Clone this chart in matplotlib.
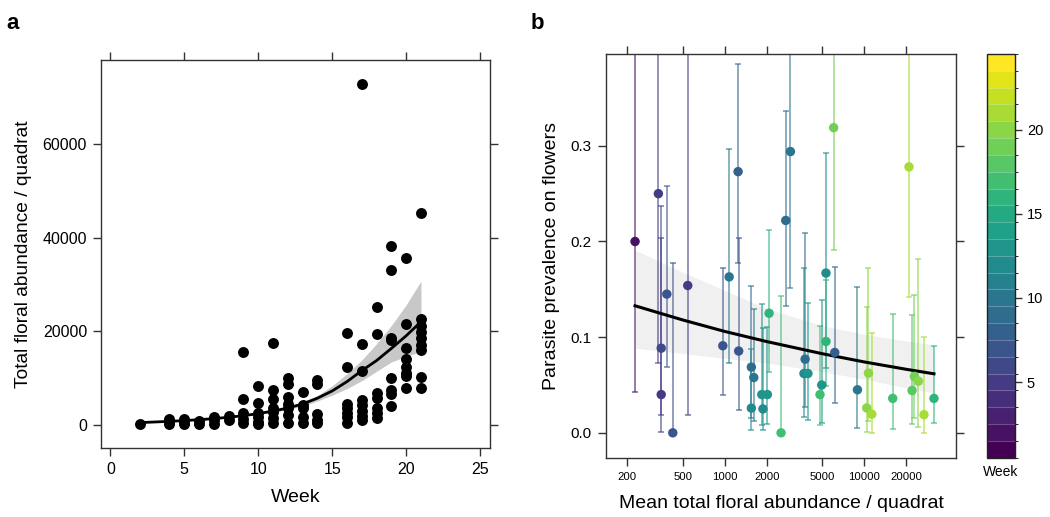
import numpy as np
import matplotlib
matplotlib.use("Agg")
import matplotlib.pyplot as plt
from matplotlib.colors import ListedColormap, BoundaryNorm, to_rgba
from matplotlib.colorbar import ColorbarBase

plt.rcParams['font.family'] = ['Liberation Sans', 'DejaVu Sans']

# ---- panel a: total floral abundance per quadrat by week ----
week_a = ([2] + [4] * 3 + [5] * 3 + [6] * 2 + [7] * 3 + [8] * 2 + [9] * 5 + [10] * 6
          + [11] * 7 + [12] * 7 + [13] * 5 + [14] * 5 + [16] * 7 + [17] * 8
          + [18] * 7 + [19] * 8 + [20] * 8 + [21] * 9)
floral_a = [200,
            1300, 600, 100,
            1200, 600, 150,
            700, 100,
            1700, 900, 200,
            1800, 1000,
            15500, 5400, 2400, 1300, 400,
            8300, 4700, 2400, 1700, 600, 100,
            17500, 7500, 5400, 3500, 2600, 1400, 400,
            10000, 8700, 5800, 4500, 3500, 2000, 300,
            7000, 4300, 3500, 1700, 400,
            9500, 8700, 2300, 1000, 300,
            19700, 12400, 4500, 3500, 2400, 1600, 400,
            72800, 17200, 11500, 5300, 4200, 3000, 1900, 900,
            25100, 19400, 6700, 5600, 3500, 2400, 1350,
            38200, 33000, 18500, 18000, 9900, 7300, 6500, 4000,
            35600, 21500, 16300, 14000, 12400, 11100, 10300, 7800,
            45300, 22500, 21100, 19900, 18500, 17000, 16000, 10100, 7800]

# fitted curve and band
fit_week_a = [2, 3, 4, 5, 6, 7, 8, 9, 10, 11, 12, 13, 14, 15, 16, 17, 18, 19, 20, 21]
fit_mid_a = [430, 560, 700, 860, 1050, 1280, 1570, 1920, 2350, 2900, 3550, 4420,
             5650, 7200, 9200, 11540, 13700, 16300, 19000, 22000]
fit_lo_a = [360, 480, 620, 770, 950, 1160, 1430, 1760, 2150, 2650, 3200, 3950,
            5050, 6300, 7700, 9400, 11400, 13400, 14600, 15600]
fit_hi_a = [510, 640, 780, 950, 1150, 1400, 1710, 2080, 2550, 3150, 3900, 4900,
            6200, 8300, 10900, 13800, 17300, 21200, 25600, 30700]

# ---- panel b: parasite prevalence vs mean floral abundance ----
abund_b = [228, 335, 351, 351, 385, 425, 544, 970, 1077, 1248, 1260, 1553, 1617,
           1553, 1845, 1880, 2024, 2081, 2535, 2740, 2960, 3770, 3700, 3950, 4820,
           4960, 5320, 5320, 6040, 6150, 8940, 10420, 10720, 11330, 16000, 20930,
           22010, 22880, 24430, 26800, 31600]
prev_b = [0.200, 0.250, 0.0885, 0.040, 0.145, 0.000, 0.154, 0.091, 0.163, 0.273,
          0.0855, 0.0687, 0.0578, 0.0258, 0.040, 0.025, 0.040, 0.125, 0.000, 0.222,
          0.294, 0.077, 0.062, 0.062, 0.040, 0.050, 0.167, 0.0955, 0.319, 0.084,
          0.045, 0.026, 0.0624, 0.0195, 0.036, 0.278, 0.0442, 0.059, 0.054, 0.019,
          0.036]
lo_b = [0.043, 0.073, 0.019, 0.001, 0.069, 0.000, 0.019, 0.040, 0.0735, 0.177,
        0.024, 0.015, 0.012, 0.003, 0.008, 0.003, 0.009, 0.064, 0.000, 0.133,
        0.151, 0.027, 0.017, 0.013, 0.008, 0.010, 0.068, 0.049, 0.191, 0.031,
        0.005, 0.001, 0.012, 0.000, 0.004, 0.142, 0.009, 0.015, 0.006, 0.000,
        0.010]
hi_b = [0.64, 0.52, 0.237, 0.204, 0.258, 0.177, 0.48, 0.172, 0.297, 0.386,
        0.2035, 0.153, 0.129, 0.088, 0.135, 0.110, 0.111, 0.212, 0.143, 0.336,
        0.47, 0.209, 0.172, 0.136, 0.112, 0.139, 0.293, 0.160, 0.47, 0.173,
        0.152, 0.132, 0.172, 0.104, 0.124, 0.45, 0.123, 0.144, 0.182, 0.100,
        0.091]
week_b = [2, 5, 6, 5, 7, 7, 5, 7, 10, 8, 7, 9, 10, 12, 13, 12, 13, 16, 17, 9,
          10, 9, 12, 13, 17, 13, 12, 16, 19, 8, 10, 20, 20, 21, 17, 21, 18, 19,
          20, 21, 16]

fit_abund_b = [228, 500, 1000, 2000, 5000, 10000, 20000, 31600]
fit_mid_b = [0.1328, 0.118, 0.106, 0.0954, 0.0827, 0.0741, 0.0664, 0.0617]
fit_lo_b = [0.0885, 0.083, 0.078, 0.073, 0.064, 0.056, 0.047, 0.0415]
fit_hi_b = [0.191, 0.168, 0.149, 0.130, 0.112, 0.103, 0.096, 0.092]

frame = '#333333'

fig = plt.figure(figsize=(10.5, 5.17), dpi=100)

# ---------------- panel a ----------------
ax1 = fig.add_axes([0.0962, 0.1335, 0.3705, 0.7505])
ax1.fill_between(fit_week_a, fit_lo_a, fit_hi_a, color='#c8c8c8', lw=0, zorder=1)
ax1.plot(fit_week_a, fit_mid_a, color='black', lw=2, zorder=2)
ax1.scatter(week_a, floral_a, s=62, color='black', lw=0, zorder=3)
ax1.set_xlim(-0.63, 25.67)
ax1.set_ylim(-5000, 78000)
ax1.set_xticks([0, 5, 10, 15, 20, 25])
ax1.set_yticks([0, 20000, 40000, 60000])
ax1.set_xlabel('Week', fontsize=14, labelpad=9)
ax1.set_ylabel('Total floral abundance / quadrat', fontsize=13.8, labelpad=8)
ax1.tick_params(axis='both', which='both', direction='out', length=6, width=1,
                color=frame, labelsize=11.5, top=True, right=True, pad=4)

# ---------------- panel b ----------------
ncol = 24
base = plt.get_cmap('viridis')
cmap = ListedColormap([base(i / (ncol - 1)) for i in range(ncol)])
bounds = np.linspace(0.5, 24.5, ncol + 1)
norm = BoundaryNorm(bounds, ncol, clip=True)

ax2 = fig.add_axes([0.5769, 0.1147, 0.3339, 0.7809])
ax2.set_xscale('log')
ax2.fill_between(fit_abund_b, fit_lo_b, fit_hi_b, color='#f0f0f0', lw=0, zorder=1)
for xv, yv, lo, hi, wk in zip(abund_b, prev_b, lo_b, hi_b, week_b):
    c = cmap(norm(wk))
    ec = to_rgba(c, 0.6)
    ax2.errorbar(xv, yv, yerr=[[yv - lo], [hi - yv]], fmt='none', ecolor=ec,
                 elinewidth=1.3, capsize=2.5, capthick=1.3, zorder=2)
ax2.plot(fit_abund_b, fit_mid_b, color='black', lw=2.2, zorder=3)
ax2.scatter(abund_b, prev_b, c=[cmap(norm(w)) for w in week_b], s=46, lw=0, zorder=4)
ax2.set_xlim(140.6, 45700)
ax2.set_ylim(-0.026, 0.396)
ax2.set_xticks([200, 500, 1000, 2000, 5000, 10000, 20000])
ax2.set_xticklabels(['200', '500', '1000', '2000', '5000', '10000', '20000'])
ax2.xaxis.set_minor_locator(matplotlib.ticker.NullLocator())
ax2.set_yticks([0.0, 0.1, 0.2, 0.3])
ax2.set_yticklabels(['0.0', '0.1', '0.2', '0.3'])
ax2.set_xlabel('Mean total floral abundance / quadrat', fontsize=14, labelpad=10)
ax2.set_ylabel('Parasite prevalence on flowers', fontsize=14, labelpad=8)
ax2.tick_params(axis='both', which='both', direction='out', length=6, width=1,
                color=frame, labelsize=11, top=True, right=True, pad=4)
ax2.tick_params(axis='x', labelsize=8.2)

for ax in (ax1, ax2):
    for sp in ax.spines.values():
        sp.set_color(frame)
        sp.set_linewidth(1)

# colour key
cax = fig.add_axes([0.9397, 0.1147, 0.027, 0.7809])
cb = ColorbarBase(cax, cmap=cmap, norm=norm, boundaries=bounds,
                  ticks=[5, 10, 15, 20], drawedges=True)
cb.dividers.set_color('white')
cb.dividers.set_alpha(0.25)
cb.dividers.set_linewidth(0.8)
cb.outline.set_edgecolor('#222222')
cb.outline.set_linewidth(1)
cax.tick_params(direction='out', length=5, width=1, color=frame, labelsize=10.5)
cax.set_yticklabels(['5', '10', '15', '20'])
fig.text(0.953, 0.087, 'Week', ha='center', va='center', fontsize=10)

fig.text(0.006, 0.975, 'a', fontsize=16, fontweight='bold', va='top')
fig.text(0.505, 0.975, 'b', fontsize=16, fontweight='bold', va='top')

fig.savefig('out.png', dpi=100)
